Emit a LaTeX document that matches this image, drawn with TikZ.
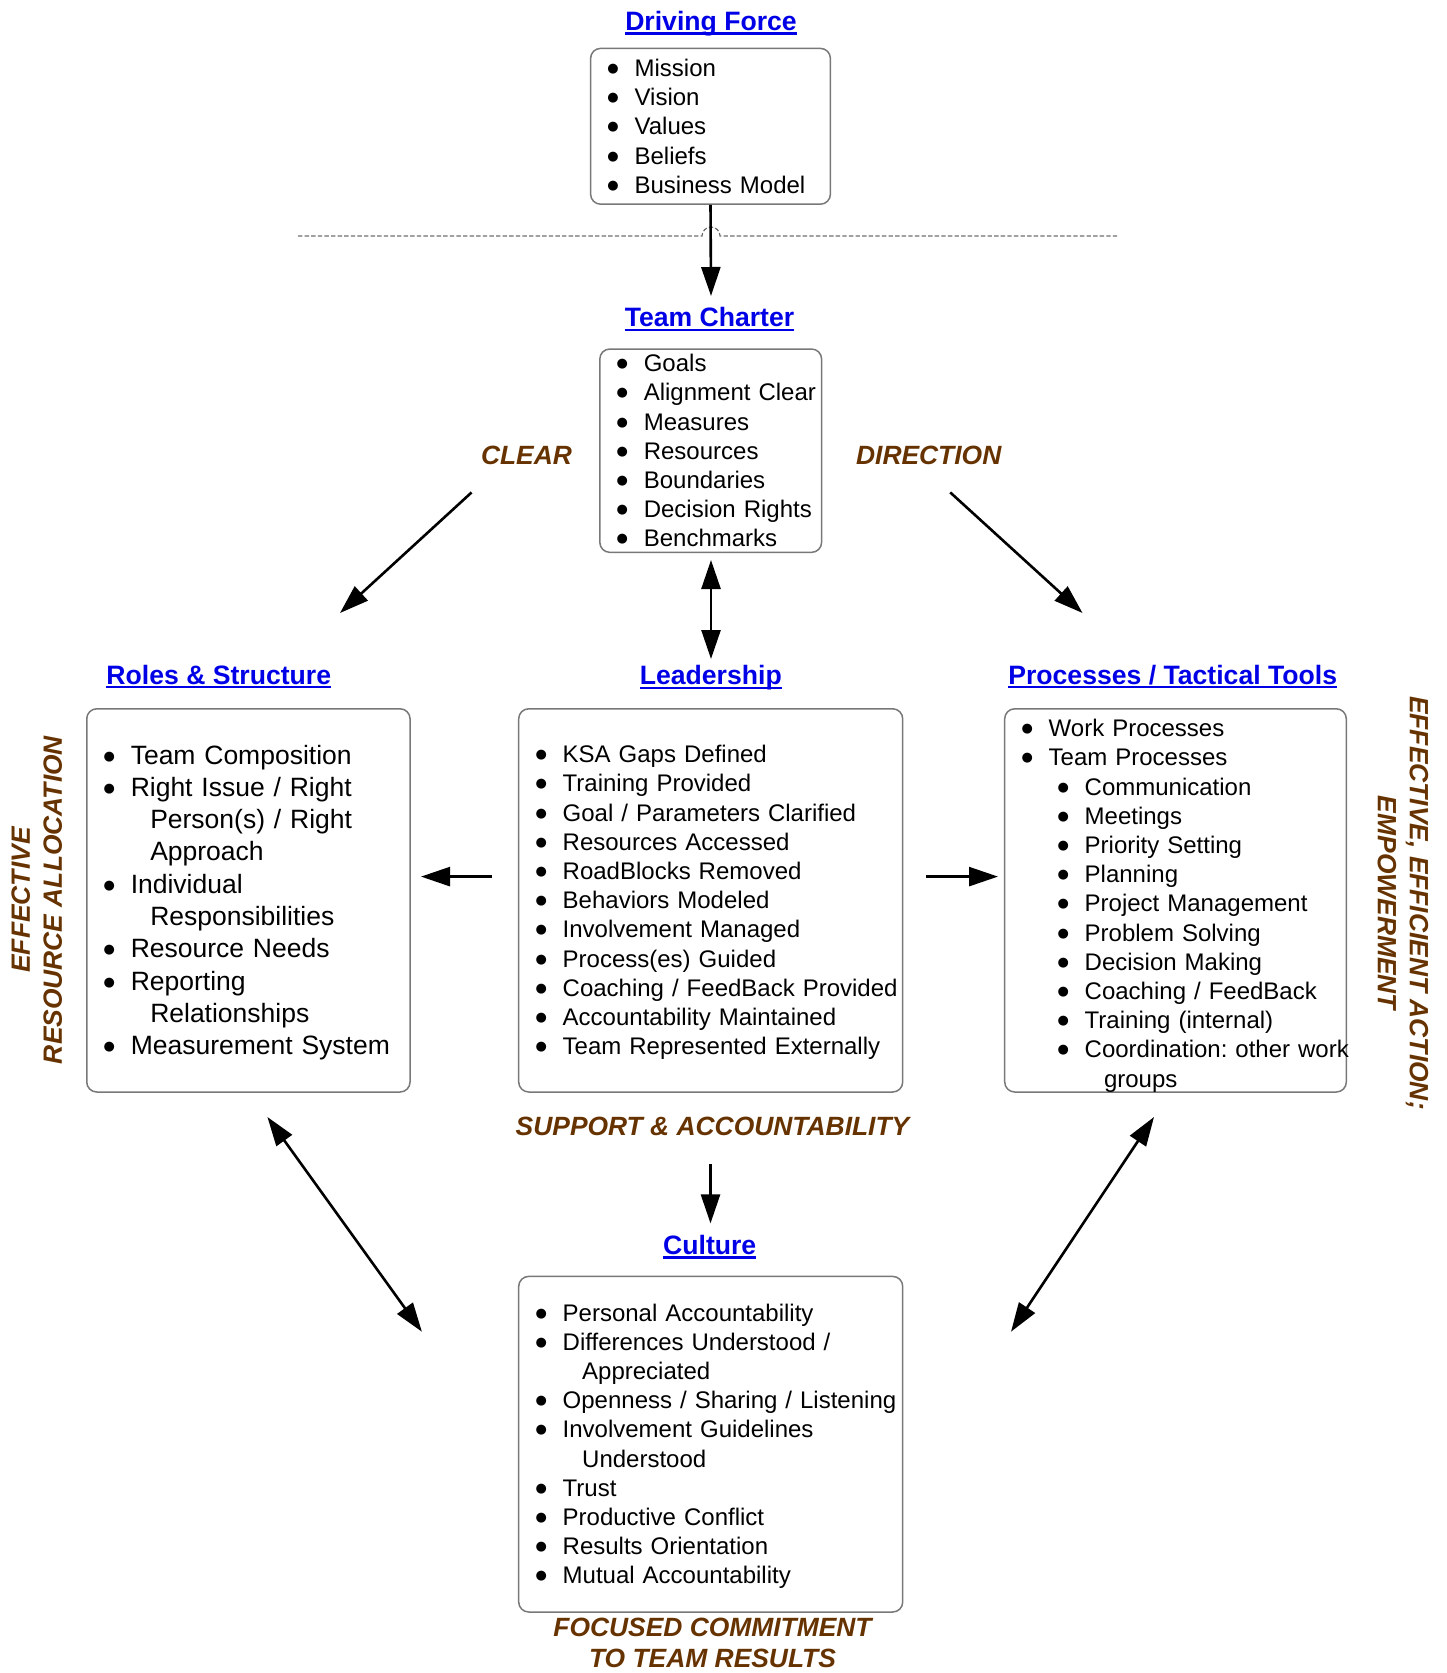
\documentclass[tikz,border=0pt]{standalone}
\usepackage{fontspec}
\setmainfont{Liberation Sans}
\newfontfamily\dotfont{DejaVu Sans}
\usetikzlibrary{arrows.meta}

\definecolor{linkblue}{RGB}{0,0,230}
\definecolor{labelbrown}{RGB}{102,51,0}
\definecolor{boxgray}{RGB}{120,120,120}
\definecolor{dashgray}{RGB}{110,110,110}

\frenchspacing
\newcommand\bdot{\hspace*{0.4pt}\raisebox{2pt}{\fontsize{6.5pt}{6.5pt}\dotfont\char"25CF}}
\newcommand\bitem[1]{\makebox[14pt][l]{\bdot}\mbox{#1}}
\newcommand\bcont[1]{\hspace*{23.75pt}\mbox{#1}}
\newcommand\bsub[1]{\hspace*{18pt}\makebox[14pt][l]{\bdot}\mbox{#1}}
\newcommand\bsubcont[1]{\hspace*{41.65pt}\mbox{#1}}
\newcommand\topgap[1]{\rule{0pt}{#1}}
\newcommand\ulink[1]{\setbox0\hbox{#1}\rlap{\rule[-2.2pt]{\wd0}{1.2pt}}\box0}

\begin{document}
\begin{tikzpicture}[x=0.5pt,y=-0.5pt,
		>={Triangle[length=14.5pt,width=9.5pt]},
		box/.style={draw=boxgray,line width=0.75pt,rounded corners=5pt,inner xsep=8pt,inner ysep=0pt,
			align=left,font=\fontsize{12pt}{14.6pt}\selectfont},
		heading/.style={anchor=base,inner sep=0pt,text=linkblue,font=\fontsize{13.3pt}{16pt}\selectfont\bfseries},
		lbl/.style={inner sep=0pt,align=center,text=labelbrown,font=\fontsize{13.2pt}{16pt}\selectfont\bfseries\itshape},
		conn/.style={->,line width=1.3pt}]

		\useasboundingbox (0,0) rectangle (1446,1673);

		\node at (711,30.5) [heading] (DriveTitle) {\ulink{Driving Force}};
		\node at (710.5,126.3) [box,text width=103.9pt,minimum height=77.9pt] (DriveBox)
			{\bitem{Mission}\\\bitem{Vision}\\\bitem{Values}\\\bitem{Beliefs}\\\bitem{Business Model}};

		\draw[dashgray,line width=0.6pt,dash pattern=on 2.2pt off 1.1pt]
			(298,236) -- (702,236) arc[start angle=180,end angle=360,radius=9] -- (1117,236);

		\node at (709.5,327) [heading] (CharterTitle) {\ulink{Team Charter}};
		\node at (710.7,450.7) [box,text width=94.9pt,minimum height=101.65pt] (CharterBox)
			{\bitem{Goals}\\\bitem{Alignment Clear}\\\bitem{Measures}\\\bitem{Resources}\\
			\bitem{Boundaries}\\\bitem{Decision Rights}\\\bitem{Benchmarks}};

		\node at (526.5,455.5) [lbl] (ClearLbl) {CLEAR};
		\node at (928.7,455.5) [lbl] (DirLbl) {DIRECTION};

		\node at (218.8,684) [heading] (RolesTitle) {\ulink{Roles \& Structure}};
		\node at (710.8,684.6) [heading] (LeadTitle) {\ulink{Leadership}};
		\node at (1172.7,684) [heading] (ProcTitle) {\ulink{Processes / Tactical Tools}};

		\node at (248.4,900.4) [box,text width=145.65pt,minimum height=191.6pt,
			font=\fontsize{13.25pt}{16.15pt}\selectfont] (RolesBox)
			{\topgap{11.7pt}\bitem{Team Composition}\\\bitem{Right Issue / Right}\\\bcont{Person(s) / Right}\\
			\bcont{Approach}\\\bitem{Individual}\\\bcont{Responsibilities}\\\bitem{Resource Needs}\\
			\bitem{Reporting}\\\bcont{Relationships}\\\bitem{Measurement System}};
		\node at (710.7,900.4) [box,text width=176pt,minimum height=191.6pt] (LeadBox)
			{\topgap{10.8pt}\bitem{KSA Gaps Defined}\\\bitem{Training Provided}\\\bitem{Goal / Parameters Clarified}\\
			\bitem{Resources Accessed}\\\bitem{RoadBlocks Removed}\\\bitem{Behaviors Modeled}\\
			\bitem{Involvement Managed}\\\bitem{Process(es) Guided}\\\bitem{Coaching / FeedBack Provided}\\
			\bitem{Accountability Maintained}\\\bitem{Team Represented Externally}};
		\node at (1175.5,900.4) [box,text width=154.8pt,minimum height=191.6pt] (ProcBox)
			{\topgap{13.9pt}\bitem{Work Processes}\\\bitem{Team Processes}\\\bsub{Communication}\\\bsub{Meetings}\\
			\bsub{Priority Setting}\\\bsub{Planning}\\\bsub{Project Management}\\\bsub{Problem Solving}\\
			\bsub{Decision Making}\\\bsub{Coaching / FeedBack}\\\bsub{Training (internal)}\\
			\bsub{Coordination: other work}\\\bsubcont{groups}};

		\node at (36.9,900) [lbl,rotate=90] (ResLbl) {EFFECTIVE\\RESOURCE ALLOCATION};
		\node at (1403,903) [lbl,rotate=-90] (ActLbl) {EFFECTIVE, EFFICIENT ACTION;\\EMPOWERMENT};

		\node at (712.5,1126.6) [lbl] (SupportLbl) {SUPPORT \& ACCOUNTABILITY};

		\node at (709.7,1254.3) [heading] (CultTitle) {\ulink{Culture}};
		\node at (710.7,1444.2) [box,text width=176pt,minimum height=167.8pt] (CultBox)
			{\topgap{10.8pt}\bitem{Personal Accountability}\\\bitem{Differences Understood /}\\\bcont{Appreciated}\\
			\bitem{Openness / Sharing / Listening}\\\bitem{Involvement Guidelines}\\\bcont{Understood}\\
			\bitem{Trust}\\\bitem{Productive Conflict}\\\bitem{Results Orientation}\\\bitem{Mutual Accountability}};

		\node at (712.5,1643) [lbl,font=\fontsize{13.2pt}{15.5pt}\selectfont\bfseries\itshape] (FocusLbl)
			{FOCUSED COMMITMENT\\TO TEAM RESULTS};

		% free ends of the arrows
		\coordinate (CharterIn) at (711,296);
		\coordinate (CharterOut) at (711,560);
		\coordinate (LeadIn) at (711,659);
		\coordinate (ClearA) at (471.6,492.4);
		\coordinate (ClearB) at (340,613);
		\coordinate (DirA) at (950.2,492.4);
		\coordinate (DirB) at (1082.5,613);
		\coordinate (LeadL) at (492,876.6);
		\coordinate (RolesIn) at (421,876.6);
		\coordinate (LeadR) at (926,876.6);
		\coordinate (ProcIn) at (998,876.6);
		\coordinate (SupportOut) at (710.5,1164.4);
		\coordinate (CultIn) at (710.5,1223.4);
		\coordinate (RolesLow) at (267.4,1117);
		\coordinate (CultLeft) at (421.9,1331.7);
		\coordinate (ProcLow) at (1154,1117);
		\coordinate (CultRight) at (1011,1331.7);

		\path[conn]
		(DriveBox.south) edge (CharterIn)
		(CharterOut) edge [<->] (LeadIn)
		(ClearA) edge (ClearB)
		(DirA) edge (DirB)
		(LeadL) edge (RolesIn)
		(LeadR) edge (ProcIn)
		(SupportOut) edge (CultIn)
		(RolesLow) edge [<->] (CultLeft)
		(ProcLow) edge [<->] (CultRight);
	\end{tikzpicture}
\end{document}
